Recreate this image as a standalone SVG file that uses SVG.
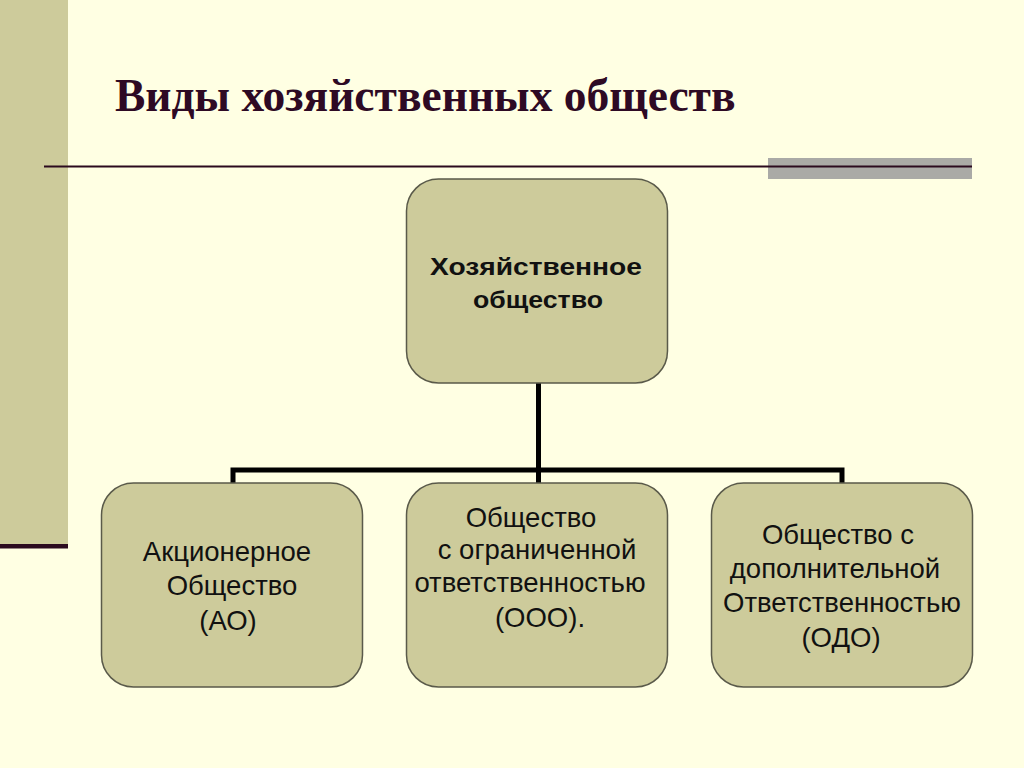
<svg xmlns="http://www.w3.org/2000/svg" width="1024" height="768" viewBox="0 0 1024 768">
<style>
.node rect{fill:#CDCB9B;stroke:#5a5a4a;stroke-width:1.5}
.t{font-family:"Liberation Sans",Arial,sans-serif;font-size:27.5px;fill:#111;text-anchor:middle}
.tb{font-family:"Liberation Sans",Arial,sans-serif;font-size:24px;font-weight:bold;fill:#111;text-anchor:middle}
.conn{fill:none;stroke:#000;stroke-width:5;stroke-linejoin:miter}
</style>
<rect x="0" y="0" width="1024" height="768" fill="#FFFFE3"/>
<rect x="0" y="0" width="68" height="545" fill="#CDCB9B"/>
<rect x="0" y="544" width="68" height="4.5" fill="#2B0A1E"/>
<rect x="768" y="158" width="204" height="21" fill="#AAAAA6"/>
<line x1="44" y1="166.5" x2="972" y2="166.5" stroke="#2B0A1E" stroke-width="2"/>
<text x="115" y="111" font-family="'Liberation Serif','Times New Roman',serif" font-size="45.5" font-weight="bold" fill="#2E0A24">Виды хозяйственных обществ</text>
<g id="connectors">
<path class="conn" d="M538.5 383 V470 M233 483 V470 H842 V483 M538.5 470 V483"/>
</g>
<g id="n0" class="node">
<rect x="406.5" y="179" width="261" height="204" rx="32"/>
<text class="tb" x="536" y="274.5" textLength="212" lengthAdjust="spacingAndGlyphs">Хозяйственное</text>
<text class="tb" x="538" y="307.5" textLength="130" lengthAdjust="spacingAndGlyphs">общество</text>
</g>
<g id="n1" class="node">
<rect x="101.5" y="483" width="261" height="204" rx="32"/>
<text class="t" x="227" y="561">Акционерное</text>
<text class="t" x="232" y="595">Общество</text>
<text class="t" x="228" y="630">(АО)</text>
</g>
<g id="n2" class="node">
<rect x="406.5" y="483" width="261" height="204" rx="32"/>
<text class="t" x="531" y="527">Общество</text>
<text class="t" x="537" y="559">с ограниченной</text>
<text class="t" x="530" y="592">ответственностью</text>
<text class="t" x="540" y="627">(ООО).</text>
</g>
<g id="n3" class="node">
<rect x="711.5" y="483" width="261" height="204" rx="32"/>
<text class="t" x="838" y="544">Общество  с</text>
<text class="t" x="835" y="578">дополнительной</text>
<text class="t" x="842" y="612">Ответственностью</text>
<text class="t" x="841" y="647">(ОДО)</text>
</g>
</svg>
